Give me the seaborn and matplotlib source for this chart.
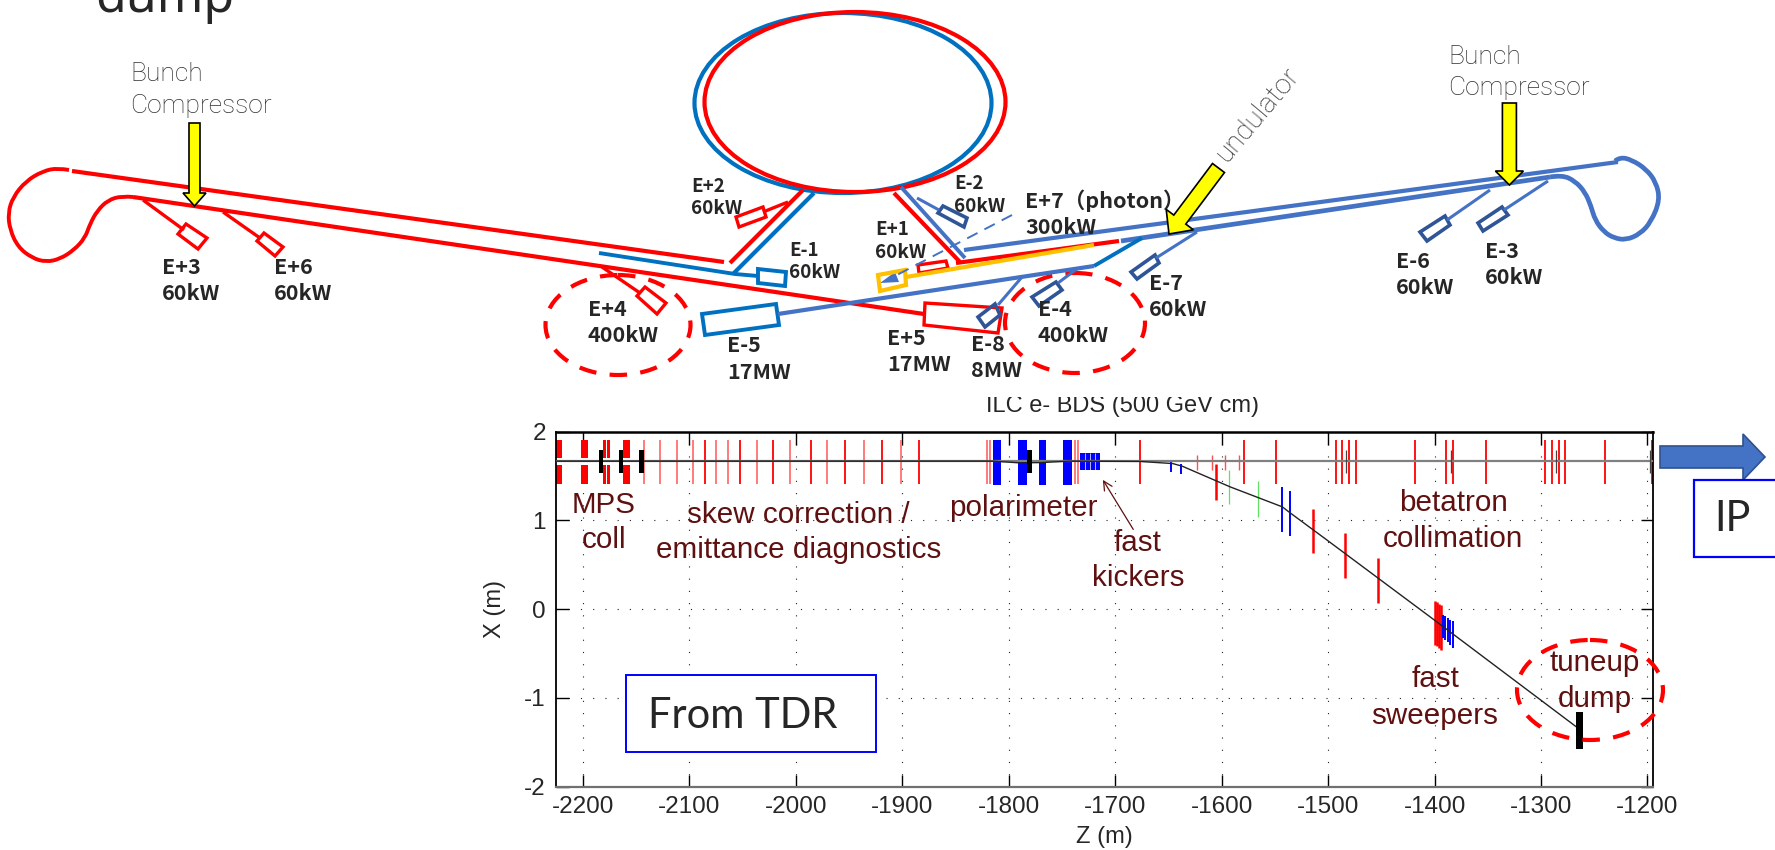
import numpy as np
import seaborn as sns
import matplotlib
matplotlib.use("Agg")
import matplotlib.pyplot as plt
from matplotlib.patches import Ellipse, FancyArrow, PathPatch, Polygon, Rectangle
from matplotlib.path import Path

# BDS plot values (Z in m, X in m)
traj_z = [-2226, -1815, -1790, -1770, -1744, -1677, -1646, -1637, -1592, -1543, -1537, -1503, -1400, -1266]
traj_x = [1.668, 1.668, 1.649, 1.652, 1.668, 1.665, 1.641, 1.611, 1.378, 1.153, 1.097, 0.796, -0.124, -1.333]

red_thick = [(-2225.7, -2219.7), (-2201.9, -2195.4), (-2181, -2178), (-2177.4, -2175), (-2162.5, -2155.8)]
red_thin = [-2085, -2053, -2021.6, -1986, -1954, -1919.5, -1884.6, -1677.2, -1579, -1549, -1493, -1486.6,
            -1480.8, -1474, -1418, -1389, -1382.6, -1352, -1296.4, -1289.7, -1283.5, -1277.7, -1239.7, -1196]
red_light = [-2143, -2128, -2112, -2097, -2075, -2063.5, -2037, -2006, -1971, -1936, -1901.4, -1820.5, -1818,
             -1737.6, -1735]
red_short = [-1622.8, -1608.9, -1597, -1583.5]
blue_blocks = [(-1815, -1807.4), (-1791.6, -1783.3), (-1771.8, -1764.8), (-1749, -1740.6)]
black_blocks = [(-2184.7, -2181), (-2166.5, -2162.5), (-2147, -2143), (-1783, -1778)]
black_thin = [-1483, -1384.8, -1285.7, -1198]

seg_red_z = [-1604.9, -1514.3, -1483.9, -1453.1, -1399.5, -1397.7, -1395.7, -1393.7]
seg_red_top = [1.634, 1.134, 0.860, 0.582, 0.094, 0.08, 0.06, 0.045]
seg_red_bot = [1.236, 0.628, 0.353, 0.075, -0.40, -0.42, -0.44, -0.46]
seg_blue_z = [-1647.3, -1638, -1543.3, -1536.2, -1392, -1389.8, -1387.5, -1385.3, -1383]
seg_blue_top = [1.66, 1.634, 1.378, 1.330, -0.06, -0.08, -0.10, -0.12, -0.13]
seg_blue_bot = [1.548, 1.529, 0.872, 0.823, -0.33, -0.35, -0.37, -0.40, -0.44]
seg_green_z = [-1593.3, -1565.6]
seg_green_top = [1.574, 1.442]
seg_green_bot = [1.183, 1.040]

z_ticks = [-2200, -2100, -2000, -1900, -1800, -1700, -1600, -1500, -1400, -1300, -1200]
x_ticks = [-2, -1, 0, 1, 2]

notes = ["MPS", "coll", "skew correction /", "emittance diagnostics", "polarimeter", "fast", "kickers",
         "betatron", "collimation", "fast", "sweepers", "tuneup", "dump"]
notes_px = [604, 604, 798, 799, 1023, 1138, 1138, 1453, 1453, 1436, 1435, 1595, 1595]
notes_py = [505, 540, 515, 550, 508, 543, 578, 503, 539, 679, 716, 663, 699]

# beam-dump labels of the layout sketch
dump_names = ["E+3", "E+6", "E+4", "E-5", "E+2", "E-1", "E+1", "E-2", "E+7（photon）", "E+5", "E-8", "E-4", "E-7", "E-6", "E-3"]
dump_power = ["60kW", "60kW", "400kW", "17MW", "60kW", "60kW", "60kW", "60kW", "300kW", "17MW", "8MW", "400kW", "60kW", "60kW", "60kW"]
dump_left = [162, 274, 588, 727, 691, 789, 875, 954, 1025, 887, 971, 1038, 1149, 1396, 1485]
name_y = [267, 268, 310, 345, 186, 250, 229, 183, 201, 338, 344, 309, 283, 261, 251]
power_y = [293, 294, 336, 372, 208, 273, 252, 206, 227, 364, 370, 335, 309, 287, 277]
small_label = [False, False, False, False, True, True, True, True, False, False, False, False, False, False, False]

# sketch paths, in picture pixels
red_loop = [(69, 170), (58, 168), (43, 171), (26, 181), (13, 197), (8, 213), (10, 230), (18, 247), (32, 258), (46, 262),
            (60, 259), (74, 250), (85, 238), (90, 224), (97, 211), (108, 200), (122, 196), (133, 197)]
red_upper = [(72, 171), (724, 262)]
red_lower = [(133, 197), (924, 314)]
red_branches = [[(143, 200), (184, 230)], [(223, 212), (260, 238)], [(602, 267), (640, 293)],
                [(788, 202), (763, 212)]]
red_long = [(803, 190), (730, 263)]
red_e1 = [(894, 193), (960, 262)]
red_und = [(956, 263), (1119, 241)]
orange_und = [(906, 277), (1094, 245)]
blue_e1 = [(814, 193), (733, 274)]
blue_e1_side = [(599, 253), (735, 274), (758, 276)]
blue_stub = [(1094, 266), (1142, 238)]
mid_lower = [(778, 314), (1021, 277), (1094, 266)]
mid_main = [(1121, 241), (1550, 177)]
mid_loop = [(1550, 177), (1562, 175), (1575, 181), (1585, 192), (1591, 206), (1595, 220), (1604, 232), (1614, 238), (1626, 240),
            (1640, 234), (1651, 222), (1660, 200), (1656, 182), (1646, 169), (1632, 160), (1620, 157), (1615, 161)]
mid_upper = [(1618, 162), (964, 250)]
mid_e2 = [(901, 187), (965, 258)]
mid_thin = [[(917, 198), (939, 210)], [(998, 305), (1022, 277)], [(1058, 283), (1078, 268)], [(1156, 258), (1197, 232)],
            [(1447, 220), (1490, 190)], [(1504, 210), (1548, 181)]]
photon_dash = [(1012, 215), (895, 276)]

red_boxes = [[(178, 234), (186, 224), (207, 238), (198, 249)], [(257, 241), (264, 233), (283, 247), (275, 256)],
             [(637, 296), (645, 287), (666, 303), (657, 314)], [(736, 217), (763, 207), (766, 217), (739, 227)],
             [(918, 265), (946, 261), (948, 268), (919, 273)], [(925, 303), (1002, 308), (998, 333), (924, 325)]]
blue_boxes = [[(758, 269), (786, 272), (785, 286), (758, 283)], [(702, 314), (776, 304), (779, 325), (705, 335)]]
dark_boxes = [[(938, 213), (943, 206), (967, 218), (964, 227)], [(978, 317), (995, 304), (1000, 315), (985, 327)],
              [(1032, 297), (1056, 282), (1062, 290), (1039, 306)], [(1131, 272), (1155, 255), (1159, 263), (1137, 279)],
              [(1420, 232), (1445, 216), (1450, 225), (1427, 241)], [(1478, 223), (1502, 207), (1508, 215), (1483, 231)]]
orange_box = [(878, 275), (905, 270), (906, 285), (880, 291)]
ring_blue = (843, 103, 297, 180)
ring_red = (855, 102, 301, 180)
dashed_rings = [(618, 325, 145, 100), (1075, 323, 140, 100), (1590, 690, 146, 100)]

RED = "#ff0000"
BLUE = "#0070c0"
MID = "#4472c4"
DARK = "#2f5597"
ORANGE = "#ffc000"
MAROON = "#5f1010"

sns.set_theme(style="ticks")
plt.rcParams['font.family'] = ['Liberation Sans', 'DejaVu Sans']
plt.rcParams['axes.unicode_minus'] = False

fig = plt.figure(figsize=(17.75, 8.5), dpi=100)
ax = fig.add_axes([555.7 / 1775, 1 - 786.7 / 850, 1097.1 / 1775, 355 / 850])

# gray reference orbit and black trajectory
ax.axhline(1.668, color="#808080", lw=1.6, zorder=3)
sns.lineplot(x=traj_z, y=traj_x, sort=False, estimator=None, color="#222222", lw=1.0, ax=ax, zorder=4)

for lo, hi in red_thick:
    ax.broken_barh([(lo, hi - lo)], (1.70, 0.212), color=RED, lw=0)
    ax.broken_barh([(lo, hi - lo)], (1.408, 0.212), color=RED, lw=0)
for lo, hi in blue_blocks:
    ax.broken_barh([(lo, hi - lo)], (1.40, 0.512), color="#0000ff", lw=0)
ax.broken_barh([(-1733, 19)], (1.566, 0.194), color="#0000ff", lw=0)
ax.vlines([-1728.5, -1724, -1718.7], 1.566, 1.76, color="white", lw=0.5)
for lo, hi in black_blocks:
    ax.broken_barh([(lo, hi - lo)], (1.535, 0.255), color="black", lw=0, zorder=5)
ax.broken_barh([(-1267, 6.2)], (-1.57, 0.413), color="black", lw=0, zorder=5)

ax.vlines(red_thin, 1.408, 1.912, color=RED, lw=1.3)
ax.vlines(red_light, 1.408, 1.912, color="#ff7070", lw=1.3)
ax.vlines(red_short, 1.574, 1.742, color="#ff5050", lw=1.0)
ax.vlines(black_thin, 1.535, 1.79, color="#444444", lw=0.9, zorder=5)
ax.vlines(seg_red_z, seg_red_bot, seg_red_top, color=RED, lw=1.8)
ax.vlines(seg_blue_z, seg_blue_bot, seg_blue_top, color="#0000ff", lw=1.4)
ax.vlines(seg_green_z, seg_green_bot, seg_green_top, color="#60e060", lw=0.9)

ax.annotate("", xy=(-1713, 1.484), xytext=(-1681.7, 0.872),
            arrowprops=dict(arrowstyle="->", color=MAROON, lw=0.9, mutation_scale=16))

ax.set_xlim(-2225.7, -1195)
ax.set_ylim(-2, 2)
ax.set_xticks(z_ticks)
ax.set_yticks(x_ticks)
ax.grid(True, color="#222222", ls=(0, (1, 10)), lw=0.8)
ax.tick_params(direction="in", length=9, width=1.0, top=True, right=True, labelsize=17.5, pad=7, color="black")
for side in ["top", "left", "right"]:
    ax.spines[side].set_color("black")
    ax.spines[side].set_linewidth(1.3)
ax.spines["bottom"].set_color("#707070")
ax.spines["bottom"].set_linewidth(1.6)
ax.spines["top"].set_linewidth(1.8)
ax.set_xlabel("")
ax.set_ylabel("")

# sketch overlay, drawn in picture pixels
sk = fig.add_axes([0, 0, 1, 1], zorder=5)
sk.set_xlim(0, 1775)
sk.set_ylim(850, 0)
sk.axis("off")
sk.patch.set_alpha(0)


def path(pts, color, lw, **kw):
    xs, ys = zip(*pts)
    sk.plot(xs, ys, color=color, lw=lw, solid_capstyle="butt", solid_joinstyle="round", **kw)


def curve(pts, color, lw):
    # quadratic pieces through the midpoints, so the loops stay round
    verts = [pts[0]]
    codes = [Path.MOVETO]
    for a, b in zip(pts[1:-2], pts[2:-1]):
        verts += [a, ((a[0] + b[0]) / 2, (a[1] + b[1]) / 2)]
        codes += [Path.CURVE3, Path.CURVE3]
    verts += [pts[-2], pts[-1]]
    codes += [Path.CURVE3, Path.CURVE3]
    sk.add_patch(PathPatch(Path(verts, codes), fc="none", ec=color, lw=lw, capstyle="butt"))


def box(pts, color, lw=2.4, **kw):
    sk.add_patch(Polygon(pts, closed=True, fc="none", ec=color, lw=lw, **kw))


# title is cropped by the sketch above it
fig.text(1123 / 1775, 1 - 406 / 850, "ILC e- BDS (500 GeV cm)", fontsize=17, ha="center", va="center", zorder=1)
sk.add_patch(Rectangle((930, 384), 400, 13, fc="white", ec="none", zorder=1))

sk.text(1104, 837, "Z (m)", fontsize=17, ha="center", va="center")
sk.text(494.5, 609, "X (m)", fontsize=17, ha="center", va="center", rotation=90)
for note, px, py in zip(notes, notes_px, notes_py):
    sk.text(px, py, note, fontsize=21.3, color=MAROON, ha="center", va="center")

cx, cy, w, h = ring_blue
sk.add_patch(Ellipse((cx, cy), w, h, fc="none", ec=BLUE, lw=3))
cx, cy, w, h = ring_red
sk.add_patch(Ellipse((cx, cy), w, h, fc="none", ec=RED, lw=3))

curve(red_loop, RED, 2.8)
path(red_upper, RED, 3)
path(red_lower, RED, 3)
for b in red_branches:
    path(b, RED, 2.4)
path(red_long, RED, 3)
path(red_e1, RED, 3)
path(blue_e1, BLUE, 3)
path(blue_e1_side, BLUE, 2.8)
path(mid_lower, MID, 3)
path(mid_upper, MID, 3)
path(mid_main, MID, 3.4)
curve(mid_loop, MID, 3.4)
path(mid_e2, MID, 2.8)
for t in mid_thin:
    path(t, MID, 2.2)
path(red_und, RED, 3)
path(orange_und, ORANGE, 3)
path(blue_stub, BLUE, 2.8)
path(photon_dash, MID, 1.4, ls=(0, (6, 4)))
sk.add_patch(Polygon([(880, 283), (895, 272), (899, 282)], closed=True, fc=MID, ec="none"))

for b in red_boxes:
    box(b, RED)
for b in blue_boxes:
    box(b, BLUE, lw=2.8)
for b in dark_boxes:
    box(b, DARK, lw=2.6)
box(orange_box, ORANGE, lw=3)

for cx, cy, w, h in dashed_rings:
    sk.add_patch(Ellipse((cx, cy), w, h, fc="none", ec=RED, lw=3, ls=(0, (4.2, 3.2))))

# yellow pointers
for tail, tip, sw, hw, hl in [((194.5, 123), (194.5, 206), 11, 23, 13),
                              ((1509.4, 103), (1509.4, 185), 14, 28, 14),
                              ((1218.5, 168), (1169, 234), 15, 34, 18)]:
    sk.add_patch(FancyArrow(tail[0], tail[1], tip[0] - tail[0], tip[1] - tail[1], width=sw, head_width=hw,
                            head_length=hl, length_includes_head=True, fc="#ffff00", ec="black", lw=1.2, zorder=6))
# arrow towards the IP
sk.add_patch(FancyArrow(1660, 457, 105, 0, width=22, head_width=46, head_length=22, length_includes_head=True,
                        fc=MID, ec="#2f528f", lw=1.2))

# dump labels
for nm, pw, x0, y1, y2, small in zip(dump_names, dump_power, dump_left, name_y, power_y, small_label):
    fs = 13.6 if small else 15.5
    sk.text(x0, y1, nm, fontsize=fs, ha="left", va="center", family=["Noto Sans CJK JP", "DejaVu Sans"], weight="bold")
    sk.text(x0, y2, pw, fontsize=fs, ha="left", va="center", family=["Noto Sans CJK JP", "DejaVu Sans"], weight="bold")

# Bunch Compressor / undulator captions
for x0, y1, y2 in [(130, 74, 106), (1448, 57, 88)]:
    sk.text(x0, y1, "Bunch", fontsize=19, color="#303030", family="Roboto", weight="light", ha="left", va="center")
    sk.text(x0, y2, "Compressor", fontsize=19, color="#303030", family="Roboto", weight="light", ha="left", va="center")
sk.text(1258, 114, "undulator", fontsize=20, color="#303030", family="Roboto", weight="light", ha="center", va="center",
        rotation=50, rotation_mode="anchor")

# boxes and leftover heading
sk.text(95, 12, "dump", fontsize=36, ha="left", va="baseline", family="Noto Sans", clip_on=False)
sk.add_patch(Rectangle((626, 675), 250, 77, fc="white", ec="#0000ff", lw=1.4))
sk.text(648, 716, "From TDR", fontsize=30, family="Lato", ha="left", va="center")
sk.add_patch(Rectangle((1694, 480), 85, 77, fc="white", ec="#0000ff", lw=1.6, clip_on=True))
sk.text(1732, 519, "IP", fontsize=30, family="Lato", ha="center", va="center")

fig.savefig("out.png", dpi=100)
